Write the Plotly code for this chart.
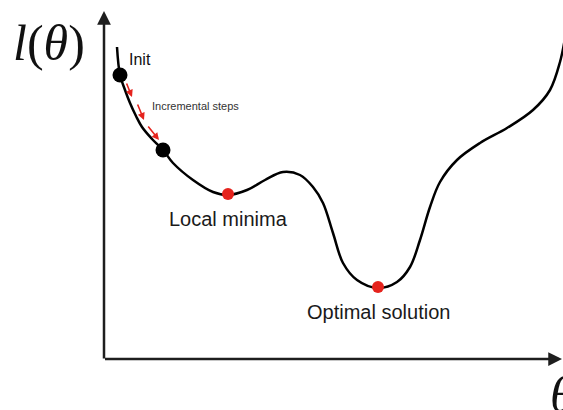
import plotly.graph_objects as go

# Loss curve l(theta) (arbitrary units)
theta = [1.3, 1.6, 2.1, 2.6, 3.2, 3.8, 4.8, 5.9, 6.9, 8.9, 10.9, 12.4, 14.3, 16.1, 17.9, 19.6,
         20.9, 21.9, 22.9, 23.9, 25.3, 27.4, 29.3, 30.6, 31.6, 32.6, 33.6, 35.3,
         37.6, 40.3, 42.9, 44.6, 45.6, 46.1]
loss = [31.2, 28.4, 26.9, 25.6, 24.3, 23.2, 22.0, 20.9, 19.6, 17.9, 16.7, 16.4, 16.9, 17.9, 18.7, 18.4,
        17.2, 15.6, 12.6, 9.6, 7.9, 7.1, 7.7, 9.2, 11.9, 15.2, 17.7, 19.9,
        21.6, 23.1, 24.9, 26.9, 29.7, 32.1]

# Gradient descent points
step_theta = [1.6, 5.9]
step_loss = [28.4, 20.9]
min_theta = [12.4, 27.4]
min_loss = [16.5, 7.2]
min_labels = ["Local minima", "Optimal solution"]

# Incremental step arrows (start -> end)
arrow_start_theta = [2.2, 3.3, 4.3]
arrow_start_loss = [27.7, 25.6, 23.4]
arrow_end_theta = [2.8, 4.0, 5.5]
arrow_end_loss = [26.2, 23.9, 21.9]

AX = "#1e1e1e"
RED = "#e5231d"

fig = go.Figure()
fig.add_trace(go.Scatter(x=theta, y=loss, mode="lines",
                         line=dict(color="black", width=2.5, shape="spline", smoothing=1.0),
                         hoverinfo="skip", showlegend=False))
fig.add_trace(go.Scatter(x=step_theta, y=step_loss, mode="markers",
                         marker=dict(color="black", size=15), showlegend=False))
fig.add_trace(go.Scatter(x=min_theta, y=min_loss, mode="markers",
                         marker=dict(color=RED, size=12), showlegend=False))

ann = []
# axes arrows
ann.append(dict(x=0, y=34.8, ax=0, ay=-0.1, xref="x", yref="y", axref="x", ayref="y",
                text="", font=dict(size=1), showarrow=True, arrowhead=2, arrowsize=1.1,
                arrowwidth=2.5, arrowcolor=AX))
ann.append(dict(x=45.8, y=0, ax=-0.05, ay=0, xref="x", yref="y", axref="x", ayref="y",
                text="", font=dict(size=1), showarrow=True, arrowhead=2, arrowsize=1.1,
                arrowwidth=2.5, arrowcolor=AX))
# step arrows
for sx, sy, ex, ey in zip(arrow_start_theta, arrow_start_loss, arrow_end_theta, arrow_end_loss):
    ann.append(dict(x=ex, y=ey, ax=sx, ay=sy, xref="x", yref="y", axref="x", ayref="y",
                    text="", font=dict(size=1), showarrow=True, arrowhead=2, arrowsize=0.9,
                    arrowwidth=1.6, arrowcolor=RED))
# texts
ann.append(dict(x=-5.5, y=31.6, xref="x", yref="y", text="<i>l</i>(<i>θ</i>)", showarrow=False,
                font=dict(family="Liberation Serif", size=50, color="#111")))
ann.append(dict(x=44.4, y=-3.6, xref="x", yref="y", text="<i>θ</i>", showarrow=False,
                xanchor="left", font=dict(family="Liberation Serif", size=50, color="#111")))
ann.append(dict(x=2.3, y=30.0, xref="x", yref="y", text="Init", showarrow=False,
                xanchor="left", font=dict(family="Liberation Sans", size=16, color="#111")))
ann.append(dict(x=4.6, y=25.3, xref="x", yref="y", text="Incremental steps", showarrow=False,
                xanchor="left", font=dict(family="Liberation Sans", size=11, color="#333")))
for tx, ty, lab in zip(min_theta, min_loss, min_labels):
    ann.append(dict(x=tx, y=ty - 2.5, xref="x", yref="y", text=lab, showarrow=False,
                    font=dict(family="Liberation Sans", size=20, color="#1a1a1a")))

fig.update_layout(
    width=563, height=410, autosize=False,
    margin=dict(l=0, r=0, t=0, b=0),
    paper_bgcolor="white", plot_bgcolor="white",
    xaxis=dict(range=[-10.4, 45.9], visible=False, fixedrange=True),
    yaxis=dict(range=[-5.1, 35.9], visible=False, fixedrange=True),
    annotations=ann,
    showlegend=False,
)
fig.write_html("out.html", config={"displayModeBar": False},
               post_script="document.body.style.margin='0';document.body.style.overflow='hidden';")
